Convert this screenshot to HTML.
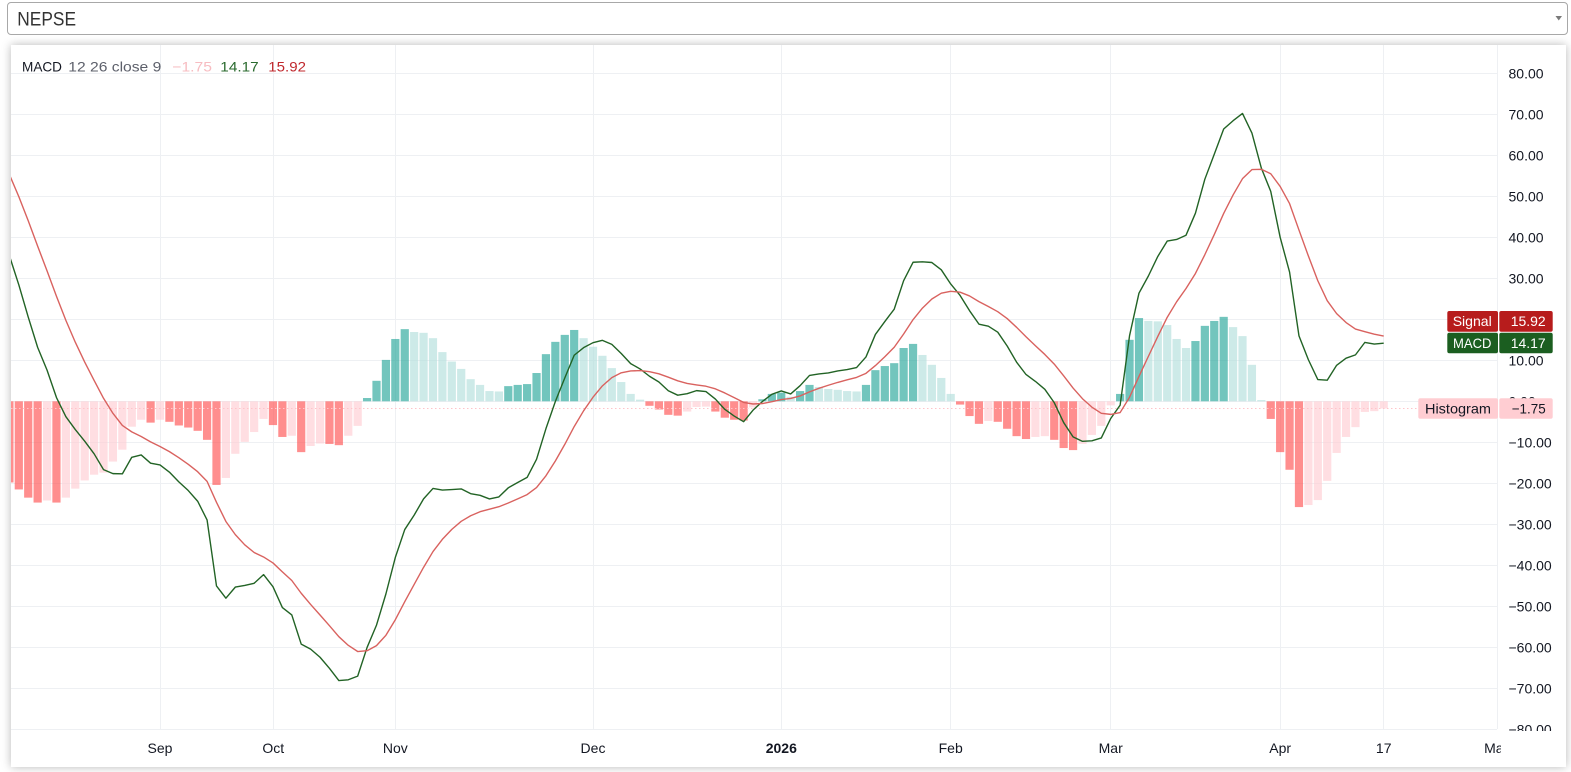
<!DOCTYPE html>
<html><head><meta charset="utf-8">
<style>
html,body{margin:0;padding:0;background:#fff;}
body{width:1571px;height:772px;overflow:hidden;position:relative;}
#sel{position:absolute;left:7px;top:2px;width:1561px;height:33px;box-sizing:border-box;border:1px solid #a8a8a8;border-radius:4px;background:#fff;}
#card{position:absolute;left:11px;top:45px;width:1555px;height:722px;background:#fff;box-shadow:0 0 9px rgba(0,0,0,0.28);}
svg{position:absolute;left:0;top:0;}
text{font-family:"Liberation Sans",Arial,sans-serif;}
</style></head><body>
<div id="sel"></div>
<div id="card"></div>
<svg id="s" width="1571" height="772" viewBox="0 0 1571 772" xmlns="http://www.w3.org/2000/svg">
<defs>
<clipPath id="plot"><rect x="11" y="45" width="1486" height="684"/></clipPath>
<clipPath id="pax"><rect x="1497" y="45" width="70" height="686"/></clipPath>
<clipPath id="tax"><rect x="11" y="730" width="1490" height="37"/></clipPath>
</defs>
<text x="17.3" y="25.5" font-size="19" fill="#333" textLength="58.7" lengthAdjust="spacingAndGlyphs">NEPSE</text>
<polygon points="1555.5,16 1562,16 1558.75,20.5" fill="#7a7a7a"/>
<g id="grid"></g>
<g id="bars" clip-path="url(#plot)"></g>
<g id="dots" clip-path="url(#plot)"></g>
<g id="lines" clip-path="url(#plot)"></g>
<g id="plab" clip-path="url(#pax)"></g>
<g id="tlab" clip-path="url(#tax)"></g>
<g id="legend">
<text x="22" y="71.5" font-size="14" fill="#131722" textLength="40" lengthAdjust="spacingAndGlyphs">MACD</text>
<text x="68.3" y="71.5" font-size="14" fill="#5d606b" textLength="93" lengthAdjust="spacingAndGlyphs">12 26 close 9</text>
<text x="172.3" y="71.5" font-size="14" fill="#f7bcc1" textLength="39.7" lengthAdjust="spacingAndGlyphs">−1.75</text>
<text x="220.3" y="71.5" font-size="14" fill="#2a6a2e" textLength="38.4" lengthAdjust="spacingAndGlyphs">14.17</text>
<text x="268.3" y="71.5" font-size="14" fill="#c0282d" textLength="37.7" lengthAdjust="spacingAndGlyphs">15.92</text>
</g>
<g id="boxes">
<rect x="1447.3" y="311" width="50.7" height="20.7" rx="2" fill="#b71c1c"/>
<rect x="1499.3" y="311" width="53.4" height="20.7" rx="2" fill="#b71c1c"/>
<text x="1452.7" y="326.2" font-size="14" fill="#fff" textLength="39" lengthAdjust="spacingAndGlyphs">Signal</text>
<text x="1510.7" y="326.2" font-size="14" fill="#fff" textLength="35" lengthAdjust="spacingAndGlyphs">15.92</text>
<rect x="1447.3" y="332.7" width="50.7" height="20.6" rx="2" fill="#1b5e20"/>
<rect x="1499.3" y="332.7" width="53.4" height="20.6" rx="2" fill="#1b5e20"/>
<text x="1453" y="348" font-size="14" fill="#fff" textLength="38.5" lengthAdjust="spacingAndGlyphs">MACD</text>
<text x="1510.7" y="348" font-size="14" fill="#fff" textLength="35" lengthAdjust="spacingAndGlyphs">14.17</text>
<rect x="1418.3" y="398.3" width="79.7" height="20.4" rx="2" fill="#ffcdd2"/>
<rect x="1499.3" y="398.3" width="53.4" height="20.4" rx="2" fill="#ffcdd2"/>
<text x="1425" y="413.5" font-size="14" fill="#131722" textLength="66" lengthAdjust="spacingAndGlyphs">Histogram</text>
<text x="1511.7" y="413.5" font-size="14" fill="#131722" textLength="34" lengthAdjust="spacingAndGlyphs">−1.75</text>
</g>
</svg>
<script>
(function(){
const NS="http://www.w3.org/2000/svg";
function el(tag,attrs,parent,txt){const e=document.createElementNS(NS,tag);for(const k in attrs)e.setAttribute(k,attrs[k]);if(txt!=null)e.textContent=txt;parent.appendChild(e);return e;}
const h=[-19.8,-21.5,-23.5,-24.7,-24.2,-24.7,-23.5,-21.3,-19.3,-17.9,-17.4,-14.7,-11.8,-6.2,-4.5,-5.2,-4.5,-5.0,-5.9,-6.4,-7.2,
-9.4,-20.4,-18.7,-12.8,-9.9,-7.5,-4.3,-5.8,-8.7,-8.4,-12.4,-10.9,-10.3,-10.4,-10.7,-8.4,-6.0,
0.8,5.0,10.1,15.2,17.6,16.9,16.7,15.4,12.0,9.7,7.9,5.4,4.0,2.5,2.4,3.7,4.0,4.2,6.9,11.5,14.5,16.2,17.4,15.4,13.3,11.1,8.1,4.7,1.8,0.4,
-1.1,-2.0,-3.3,-3.5,-2.5,-1.4,-1.3,-2.5,-4.0,-4.5,-4.7,-1.5,
0.5,1.8,2.1,1.1,2.5,4.0,3.5,3.0,2.8,2.5,2.4,4.0,7.6,8.6,9.3,13.0,14.0,11.3,8.9,5.7,1.8,
-0.8,-3.6,-5.5,-4.8,-5.0,-6.7,-8.5,-9.2,-8.7,-8.5,-9.4,-11.4,-11.9,-10.4,-8.2,-6.0,-1.0,
1.8,15.0,20.3,19.6,19.5,18.6,15.2,13.0,14.7,18.4,19.6,20.6,18.1,15.9,8.9,0.3,
-4.3,-12.4,-16.7,-25.8,-25.3,-24.1,-19.4,-12.6,-8.7,-6.3,-2.6,-2.4,-1.75];
const n=h.length;
const X=i=>9.4+9.413*i;
const Y=v=>401.3-4.1*v;
// grid
const grid=document.getElementById('grid');
for(let v=-80;v<=80;v+=10){const y=Math.floor(Y(v))+0.5;el('line',{x1:11,x2:1497,y1:y,y2:y,stroke:'#eef0f3','stroke-width':1},grid);}
const vx=[160,273.3,395.3,593,781.3,950.7,1110.7,1280.2,1383.7,1497.3];
const vl=['Sep','Oct','Nov','Dec','2026','Feb','Mar','Apr','17','May'];
vx.forEach(x=>{const xx=Math.floor(x)+0.5;el('line',{x1:xx,x2:xx,y1:45,y2:729,stroke:'#eef0f3','stroke-width':1},grid);});
// bars
const bars=document.getElementById('bars');
const y0=Y(0);
for(let i=0;i<n;i++){
  const v=h[i];let c;
  const rising=(i>0&&v>h[i-1]);
  if(v>=0)c=rising?'#26A69A':'#B2DFDB';else c=rising?'#FFCDD2':'#FF5252';
  const yy=Y(v);const top=Math.min(yy,y0);const hh=Math.max(Math.abs(yy-y0),0.8);
  el('rect',{x:(X(i)-4.1).toFixed(2),y:top.toFixed(2),width:8.2,height:hh.toFixed(2),fill:c,'fill-opacity':0.65},bars);
}
// dotted histogram price line
el('line',{x1:11,x2:1418,y1:408.5,y2:408.5,stroke:'#ffc4ca','stroke-width':1,'stroke-dasharray':'1.5 2.5'},document.getElementById('dots'));
// lines
const S=[55.3];
for(let i=1;i<n;i++)S.push(S[i-1]+0.25*h[i]);
const err=15.92-S[n-1];
for(let i=0;i<n;i++)S[i]+=err*i/(n-1);
const M=S.map((s,i)=>s+h[i]);
function path(a){return a.map((v,i)=>(i?'L':'M')+X(i).toFixed(2)+','+Y(v).toFixed(2)).join('');}
const lines=document.getElementById('lines');
el('path',{d:path(M),fill:'none',stroke:'#226325','stroke-width':1.4,'stroke-linejoin':'round'},lines);
el('path',{d:path(S),fill:'none',stroke:'#d9625f','stroke-width':1.4,'stroke-linejoin':'round'},lines);
// price labels
const plab=document.getElementById('plab');
for(let v=80;v>=-80;v-=10){
  const s=(v<0?'\u2212':'')+Math.abs(v).toFixed(2);
  el('text',{x:1508.5,y:(Y(v)+5).toFixed(2),'font-size':14,fill:'#131722'},plab,s);
}
// time labels
const tlab=document.getElementById('tlab');
vx.forEach((x,k)=>{
  const a={x:x,y:753,'font-size':14,fill:'#131722','text-anchor':'middle'};
  if(vl[k]==='2026')a['font-weight']='bold';
  el('text',a,tlab,vl[k]);
});
})();
</script>
</body></html>
